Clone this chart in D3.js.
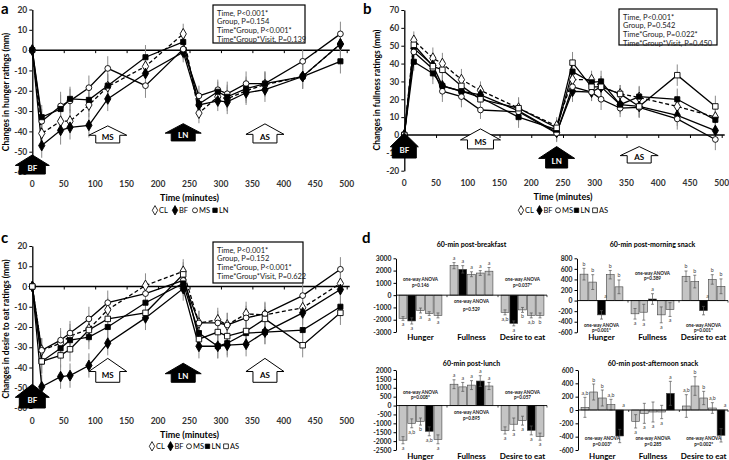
<!DOCTYPE html>
<html><head><meta charset="utf-8">
<script src="https://cdn.jsdelivr.net/npm/d3@7"></script>
<style>body{margin:0;background:#fff} svg{display:block} text{font-family:Lato,'Open Sans',sans-serif}</style>
</head><body><svg id="c" width="729" height="460"></svg>
<script>
// ---------- DATA ----------
const times = [0,15,45,60,90,120,180,240,265,295,310,340,370,430,490];
const xTicks = [0,50,100,150,200,250,300,350,400,450,500];
// a: hunger
const hungerCL = [0,-41,-35,-35,-27,-18,-8,8,-31,-23,-24,-20,-17,-13,3];
const hungerBF = [0,-47,-39.5,-38,-37,-24,-11.5,-1,-27,-25,-25.5,-21,-19.5,-13,3];
const hungerMS = [0,-35,-27.5,-25,-18.5,-9,-17.5,0.5,-22.5,-19.5,-21.5,-16.5,-16.5,-5.5,8];
const hungerLN = [0,-33,-29,-24,-24.5,-17.5,-3.5,4,-26.5,-20.5,-23,-19,-16.5,-13,-5.5];
const hungerSE = [0,6,7,6,6,6,6,5,5,5,6,6,6,6,6];
// b: fullness
const fullCL = [0,53,43,40,31,25,15,5,31,31,27,23,21,16,10];
const fullBF = [0,48.5,39,27.5,24.5,22.5,13.5,1.5,24.5,24,27,17,16,11,2.5];
const fullMS = [0,46.5,37,24.5,21.5,14,13,1,27,24,20,15,15.5,9,-2.5];
const fullLN = [0,41,34.5,27.5,24.5,21,10,3,35.5,29.5,30,17,21.5,20,8.5];
const fullAS = [0,50.5,38.5,36.5,27.5,20,15,4,40.5,27,27,23,16,33.5,16];
const fullSE = [0,5,6,6,6,5,6,5,6,5,6,5,6,6,6];
// c: desire to eat
const desireCL = [0,-31.5,-28,-24.5,-21,-11.5,0.5,7.5,-18,-16.5,-19,-13.5,-14,-10.5,1.5];
const desireBF = [0,-49.5,-44.5,-44,-39,-28,-15.5,-1,-29.5,-29.5,-29,-28.5,-22.5,-13,-1.5];
const desireMS = [0,-31.5,-26.5,-23,-16,-8,-3.5,3,-18,-18,-19,-15.5,-13.5,-4.5,8.5];
const desireLN = [0,-37,-30.5,-26.5,-25,-20,-8,1.5,-23,-29.5,-28,-23,-22.5,-21.5,-10];
const desireAS = [0,-37,-34,-31,-21.5,-16,-13,6,-26,-22.5,-24.5,-22,-16,-29,-13];
const desireSE = [0,6,6,6,6,6,6,6,6,6,6,6,6,6,6];
const statsA = ["Time, P<0.001*","Group, P=0.154","Time*Group, P<0.001*","Time*Group*Visit, P=0.139"];
const statsB = ["Time, P<0.001*","Group, P=0.542","Time*Group, P=0.022*","Time*Group*Visit, P=0.450"];
const statsC = ["Time, P<0.001*","Group, P=0.152","Time*Group, P<0.001*","Time*Group*Visit, P=0.622"];
const mealLabels = ["BF","MS","LN","AS"];
const mealTimes = [0,120,240,370];
// d: bar charts (order CL, BF, MS, LN, AS)
const barGroups = ["Hunger","Fullness","Desire to eat"];
const bkVals = [[-1900,-2100,-1250,-1500,-1650],[2400,2100,1700,1800,1950],[-1400,-2300,-1200,-1650,-1650]];
const bkErr  = [[150,250,200,150,200],[250,300,200,200,300],[200,200,200,200,200]];
const bkLet  = [["a","a","a","a","a"],["a","a","a","a","a"],["a,b","a","b","a,b","b"]];
const bkP = ["p=0.146","p=0.529","p=0.037*"];
const msVals = [[500,350,-270,490,260],[-250,-220,30,-270,-170],[460,360,-190,400,270]];
const msErr  = [[110,140,80,80,130],[100,150,100,150,130],[100,120,80,90,140]];
const msLet  = [["b","b","^a","b","b"],["a","a","a","a","a"],["b","b","^a","b","b"]];
const msP = ["p=0.001*","p=0.389","p=0.001*"];
const lnVals = [[-1950,-1000,-900,-1450,-1900],[1200,1050,1150,1380,1100],[-1400,-1050,-850,-1400,-1750]];
const lnErr  = [[200,250,200,250,250],[250,250,250,300,200],[200,350,250,250,200]];
const lnLet  = [["a","a,b","b","a,b","a"],["a","a","a","a","a"],["a","a","a","a","a"]];
const lnP = ["p=0.008*","p=0.895","p=0.057"];
const asVals = [[40,270,180,80,-390],[-170,-50,-30,-30,250],[60,360,180,30,-380]];
const asErr  = [[150,120,120,80,100],[100,150,150,100,180],[170,140,100,80,100]];
const asLet  = [["a,b","b","b","a,b","^a"],["a","a","a","a","a"],["a,b","b","b","a,b","^a"]];
const asP = ["p=0.003*","p=0.285","p=0.002*"];

// ---------- DRAW ----------
const svg = d3.select("#c");
const F = "Lato,'Open Sans',sans-serif";
const symType = {CL:d3.symbolDiamond, BF:d3.symbolDiamond, MS:d3.symbolCircle, LN:d3.symbolSquare, AS:d3.symbolSquare};
const symSize = {CL:34, BF:34, MS:26, LN:26, AS:30};
const filled = {CL:false, BF:true, MS:false, LN:true, AS:false};
const fmt = d => String(d);

function arrowPath(cx, tip, bot, hw, sw, hh){
  return `M${cx},${tip}L${cx+hw},${tip+hh}L${cx+sw},${tip+hh}L${cx+sw},${bot}L${cx-sw},${bot}L${cx-sw},${tip+hh}L${cx-hw},${tip+hh}Z`;
}

function linePanel(c){
  const g = svg.append("g");
  const x = d3.scaleLinear().domain([0,500]).range([c.x0,c.x1]);
  const y = d3.scaleLinear().domain(c.domain).range([c.yBot,c.yTop]);
  const ya = g.append("g").attr("transform",`translate(${c.x0},0)`)
    .call(d3.axisLeft(y).tickValues(d3.range(c.domain[0],c.domain[1]+1,c.step)).tickFormat(fmt).tickSize(3).tickSizeOuter(0).tickPadding(2));
  ya.select(".domain").attr("stroke-width",1.3);
  ya.selectAll("text").style("font",`bold 8.5px ${F}`).attr("fill","#333");
  const xa = g.append("g").attr("transform",`translate(0,${y(0)})`)
    .call(d3.axisBottom(x).tickValues(xTicks.slice(1)).tickSize(3).tickSizeOuter(0).tickFormat(""));
  xa.select(".domain").remove();
  g.append("line").attr("x1",c.x0).attr("x2",c.x1+3).attr("y1",y(0)).attr("y2",y(0)).attr("stroke","#000").attr("stroke-width",1.5);
  g.selectAll(".xl").data(xTicks).join("text").attr("x",d=>x(d)).attr("y",c.xLabY)
    .attr("text-anchor","middle").style("font",`bold 8.5px ${F}`).attr("fill","#333").text(d=>d);
  g.append("text").attr("x",(c.x0+c.x1)/2).attr("y",c.xLabY+14).attr("text-anchor","middle")
    .style("font",`bold 9px ${F}`).text("Time (minutes)");
  g.append("text").attr("transform",`translate(${c.yLabX},${c.yLabC}) rotate(-90)`).attr("text-anchor","middle")
    .attr("dominant-baseline","middle").style("font",`bold 8.5px ${F}`).text(c.ylabel);
  g.append("text").attr("x",c.letterX).attr("y",c.letterY).style("font",`bold 15px ${F}`).text(c.letter);
  c.series.forEach(s=>{
    g.selectAll(null).data(s.values.map((v,i)=>({t:times[i],v,e:c.se[i]}))).join("line")
      .attr("x1",d=>x(d.t)).attr("x2",d=>x(d.t)).attr("y1",d=>y(d.v-d.e)).attr("y2",d=>y(d.v+d.e))
      .attr("stroke","#8a8a8a").attr("stroke-width",1);
  });
  c.series.forEach(s=>{
    const ln = d3.line().x((d,i)=>x(times[i])).y(d=>y(d));
    g.append("path").attr("d",ln(s.values)).attr("fill","none").attr("stroke","#000").attr("stroke-width",1.3)
      .attr("stroke-dasharray", s.name==="CL"?"4,2.5":null);
  });
  c.series.forEach(s=>{
    g.selectAll(null).data(s.values).join("path")
      .attr("transform",(d,i)=>`translate(${x(times[i])},${y(d)})`)
      .attr("d",d3.symbol().type(symType[s.name]).size(symSize[s.name]))
      .attr("fill",filled[s.name]?"#000":"#fff").attr("stroke","#000").attr("stroke-width",0.9);
  });
  g.append("rect").attr("x",c.box[0]).attr("y",c.box[1]).attr("width",c.box[2]).attr("height",c.box[3])
    .attr("fill","#fff").attr("stroke","#000").attr("stroke-width",1.2);
  g.selectAll(null).data(c.stats).join("text").attr("x",c.box[0]+4).attr("y",(d,i)=>c.box[1]+10.5+i*8.7)
    .style("font",`7.5px ${F}`).attr("fill","#222").text(d=>d);
  mealTimes.forEach((t,i)=>{
    const a = c.arrows[i];
    const cx = x(t), tip = y(a[0]), bot = y(a[1]);
    const black = (i%2===0);
    g.append("path").attr("d",arrowPath(cx,tip,bot,a[2]/2,a[3]/2,(bot-tip)*0.55))
      .attr("fill",black?"#000":"#fff").attr("stroke","#000").attr("stroke-width",1);
    g.append("text").attr("x",cx).attr("y",tip+(bot-tip)*0.72).attr("text-anchor","middle").attr("dominant-baseline","middle")
      .style("font",`bold 8px ${F}`).attr("fill",black?"#fff":"#000").text(mealLabels[i]);
  });
  let lx = c.legX;
  c.series.forEach(s=>{
    g.append("path").attr("transform",`translate(${lx},${c.legY-2.7})`)
      .attr("d",d3.symbol().type(symType[s.name]).size(symSize[s.name]*0.75))
      .attr("fill",filled[s.name]?"#000":"#fff").attr("stroke","#000").attr("stroke-width",0.8);
    g.append("text").attr("x",lx+4).attr("y",c.legY).style("font",`7.5px ${F}`).text(s.name);
    lx += c.legStep;
  });
}

linePanel({x0:32.3,x1:346.7,yTop:9.5,yBot:172,domain:[-60,20],step:10,xLabY:187,yLabX:7,yLabC:92,
  ylabel:"Changes in hunger ratings (mm)",letter:"a",letterX:1,letterY:14,se:hungerSE,
  series:[{name:"CL",values:hungerCL},{name:"BF",values:hungerBF},{name:"MS",values:hungerMS},{name:"LN",values:hungerLN}],
  box:[213,5,92,38],stats:statsA,
  arrows:[[-51.6,-61,34,26],[-37.3,-45.7,38,24],[-36.2,-44.7,36,24],[-36.3,-45.7,38,24]],
  legX:155,legY:213,legStep:20});
linePanel({x0:404.3,x1:721.7,yTop:10,yBot:170.7,domain:[-20,70],step:10,xLabY:186,yLabX:378,yLabC:90,
  ylabel:"Changes in fullness ratings (mm)",letter:"b",letterX:363,letterY:14,se:fullSE,
  series:[{name:"CL",values:fullCL},{name:"BF",values:fullBF},{name:"MS",values:fullMS},{name:"LN",values:fullLN},{name:"AS",values:fullAS}],
  box:[619,9,98,36],stats:statsB,
  arrows:[[1.1,-12.9,28,24],[3.4,-7.8,40,26],[-6.5,-18.5,36,22],[-6.5,-15.7,38,24]],
  legX:521,legY:213,legStep:18.5});
linePanel({x0:32.3,x1:346.7,yTop:246,yBot:408,domain:[-60,20],step:10,xLabY:424,yLabX:7,yLabC:329,
  ylabel:"Changes in desire to eat ratings (mm)",letter:"c",letterX:1,letterY:243,se:desireSE,
  series:[{name:"CL",values:desireCL},{name:"BF",values:desireBF},{name:"MS",values:desireMS},{name:"LN",values:desireLN},{name:"AS",values:desireAS}],
  box:[213,242,90,41],stats:statsC,
  arrows:[[-48.3,-60,34,26],[-35.5,-47.3,38,24],[-37.9,-47.3,36,24],[-35.5,-47.3,38,24]],
  legX:152,legY:449,legStep:18.5});

svg.append("text").attr("x",362).attr("y",243).style("font",`bold 15px ${F}`).text("d");

function barPanel(c){
  const g = svg.append("g");
  const y = d3.scaleLinear().domain(c.domain).range([c.yBot,c.yTop]);
  const gx = d3.scaleBand().domain(barGroups).range([c.x0,c.x1]).paddingInner(0.16).paddingOuter(0.06);
  const bx = d3.scaleBand().domain(d3.range(5)).range([0,gx.bandwidth()]).paddingInner(0.1);
  const ya = g.append("g").attr("transform",`translate(${c.x0},0)`)
    .call(d3.axisLeft(y).tickValues(d3.range(c.domain[0],c.domain[1]+1,c.step)).tickFormat(fmt).tickSize(2.5).tickSizeOuter(0).tickPadding(2));
  ya.selectAll("text").style("font",`bold 6.8px ${F}`).attr("fill","#222");
  ya.select(".domain").attr("stroke-width",1);
  g.append("text").attr("x",(c.x0+c.x1)/2).attr("y",c.titleY).attr("text-anchor","middle")
    .style("font",`bold 7px ${F}`).text(c.title);
  barGroups.forEach((grp,gi)=>{
    const gg = g.append("g").attr("transform",`translate(${gx(grp)},0)`);
    const data = c.vals[gi].map((v,i)=>({i,v,e:c.err[gi][i],l:c.lets[gi][i]}));
    gg.selectAll("rect").data(data).join("rect")
      .attr("x",d=>bx(d.i)).attr("width",bx.bandwidth())
      .attr("y",d=>Math.min(y(d.v),y(0))).attr("height",d=>Math.abs(y(d.v)-y(0)))
      .attr("fill",d=>d.i===c.black?"#000":"#c4c4c4").attr("stroke","#444").attr("stroke-width",0.6);
    gg.selectAll(".eb").data(data).join("path")
      .attr("d",d=>{const cx=bx(d.i)+bx.bandwidth()/2, t=y(d.v+d.e), b=y(d.v-d.e);
        return `M${cx},${t}V${b}M${cx-1.5},${t}H${cx+1.5}M${cx-1.5},${b}H${cx+1.5}`;})
      .attr("stroke","#555").attr("stroke-width",0.7).attr("fill","none");
    gg.selectAll(".lt").data(data).join("text")
      .attr("x",d=>bx(d.i)+bx.bandwidth()/2 + (d.l[0]==="^"?4:0))
      .attr("y",d=> d.l[0]==="^" ? y(0)-3 : (d.v>=0 ? y(d.v+d.e)-2.5 : y(d.v-d.e)+6))
      .attr("text-anchor","middle").style("font",`5.3px ${F}`).attr("fill","#3a3a3a")
      .text(d=>d.l.replace("^",""));
    g.append("text").attr("x",gx(grp)+gx.bandwidth()/2).attr("y",c.labY).attr("text-anchor","middle")
      .style("font",`bold 8px ${F}`).text(grp);
    const n = c.notes[gi];
    const nt = g.append("text").attr("text-anchor","middle").style("font",`bold 4.6px ${F}`).attr("fill","#111");
    nt.append("tspan").attr("x",gx(grp)+gx.bandwidth()/2).attr("y",y(n[0])+2).text("one-way ANOVA");
    nt.append("tspan").attr("x",gx(grp)+gx.bandwidth()/2).attr("y",y(n[1])+2).text(c.ps[gi]);
  });
  g.append("line").attr("x1",c.x0).attr("x2",c.x1).attr("y1",y(0)).attr("y2",y(0)).attr("stroke","#000").attr("stroke-width",0.9);
  [c.x0+gx.step()*1.0, c.x0+gx.step()*2.0, c.x1].forEach(xx=>{
    g.append("line").attr("x1",xx).attr("x2",xx).attr("y1",y(0)).attr("y2",y(0)+2).attr("stroke","#000").attr("stroke-width",0.7);
  });
}

barPanel({x0:396,x1:547,yTop:258.3,yBot:332,domain:[-3000,3000],step:1000,title:"60-min post-breakfast",titleY:247,labY:340,
  vals:bkVals,err:bkErr,lets:bkLet,black:1,ps:bkP,notes:[[1350,820],[-480,-1160],[1350,820]]});
barPanel({x0:577,x1:728,yTop:258.3,yBot:332.3,domain:[-600,800],step:200,title:"60-min post-morning snack",titleY:247,labY:340,
  vals:msVals,err:msErr,lets:msLet,black:2,ps:msP,notes:[[-460,-565],[530,425],[-460,-565]]});
barPanel({x0:396,x1:547,yTop:370,yBot:450,domain:[-2500,2000],step:500,title:"60-min post-lunch",titleY:366,labY:459,
  vals:lnVals,err:lnErr,lets:lnLet,black:3,ps:lnP,notes:[[790,470],[-370,-710],[790,470]]});
barPanel({x0:578,x1:728,yTop:370,yBot:450,domain:[-600,600],step:200,title:"60-min post-afternoon snack",titleY:366,labY:459,
  vals:asVals,err:asErr,lets:asLet,black:4,ps:asP,notes:[[-425,-515],[-425,-515],[-425,-515]]});
</script></body></html>
